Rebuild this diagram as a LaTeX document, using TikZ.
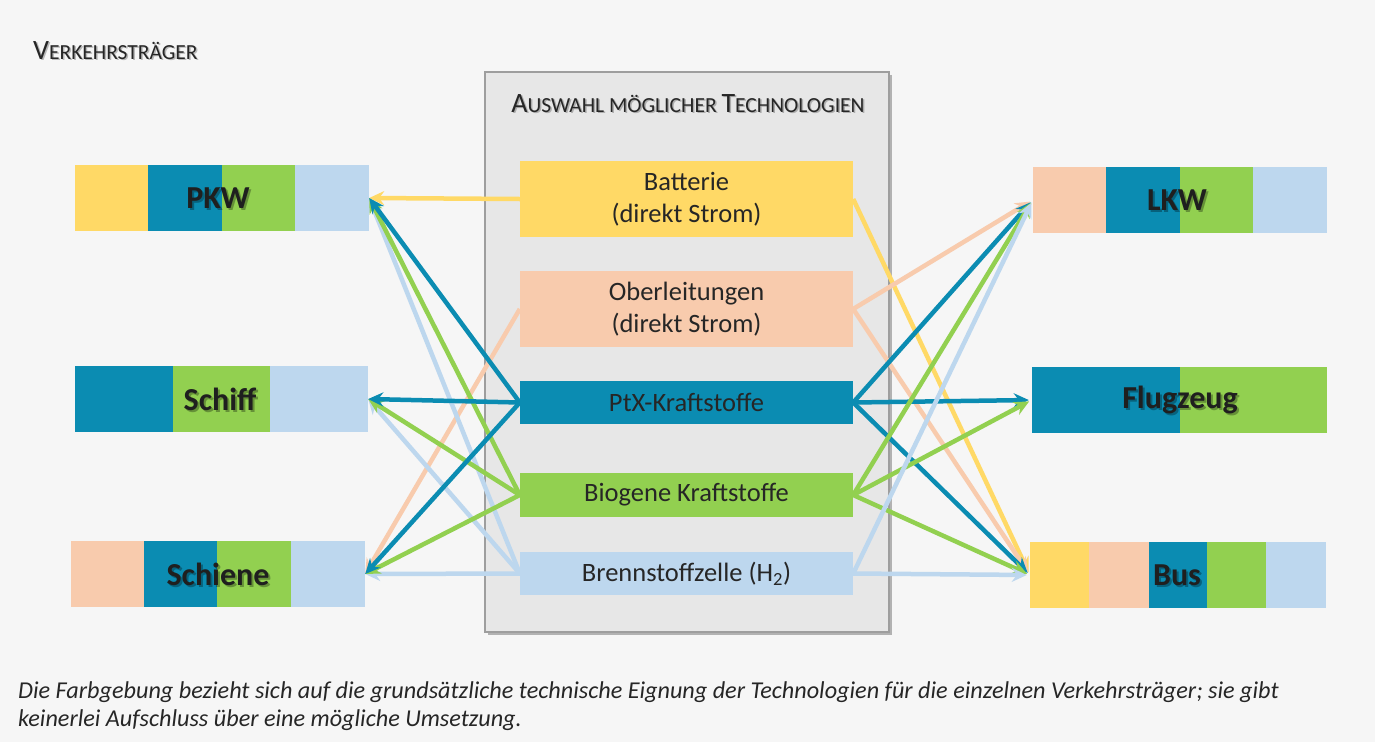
\documentclass[tikz,border=0pt]{standalone}
\usepackage{fontspec}
\setmainfont{Carlito}
\usetikzlibrary{arrows.meta}
\definecolor{cy}{HTML}{FFD966}
\definecolor{cp}{HTML}{F8CBAD}
\definecolor{ct}{HTML}{0B8CB2}
\definecolor{cg}{HTML}{92D050}
\definecolor{cb}{HTML}{BDD7EE}
\definecolor{bgc}{HTML}{F6F6F6}
\definecolor{panel}{HTML}{E7E7E7}
\definecolor{txt}{HTML}{262626}
\newcommand{\bigc}[1]{{\fontsize{28}{30}\selectfont #1}}
\newcommand{\smc}[1]{{\fontsize{21.5}{30}\selectfont #1}}
\begin{document}
\begin{tikzpicture}[x=1pt,y=-1pt,
  tech/.style={minimum width=333pt, inner sep=0pt, font=\fontsize{26.5}{32}\selectfont, text=txt, align=center},
  veh/.style={font=\bfseries\fontsize{32}{36}\selectfont, text=black!88, minimum height=66pt, inner sep=0pt},
  vehsh/.style={font=\bfseries\fontsize{32}{36}\selectfont, text=black, opacity=0.3, inner sep=0pt},
  ttl/.style={text=black!85, inner sep=0pt},
  ttlsh/.style={text=black, opacity=0.25, inner sep=0pt},
  conn/.style={line width=4.5pt, -{Stealth[length=15pt,width=14pt,inset=5pt]}},
  connr/.style={conn, shorten >=3pt},
]
\useasboundingbox (0,0) rectangle (1375,742);
\fill[bgc] (0,0) rectangle (1375,742);

% titles
\node[ttlsh, anchor=base west] (t1sh) at (34.5,60.5) {\bigc{V}\smc{ERKEHRSTRÄGER}};
\node[ttl, anchor=base west] (t1) at (33,59) {\bigc{V}\smc{ERKEHRSTRÄGER}};

% central panel
\fill[black!30] (488,75) rectangle (892,635);
\draw[fill=panel, draw=black!38, line width=1.5pt] (485,72) rectangle (889,632);
\node[ttlsh, anchor=base] (t2sh) at (689.5,113.5) {\bigc{A}\smc{USWAHL MÖGLICHER }\bigc{T}\smc{ECHNOLOGIEN}};
\node[ttl, anchor=base] (t2) at (688,112) {\bigc{A}\smc{USWAHL MÖGLICHER }\bigc{T}\smc{ECHNOLOGIEN}};

% technology boxes
\node[tech, fill=cy, minimum height=76pt] (bat) at (686.5,199) {Batterie\\(direkt Strom)};
\node[tech, fill=cp, minimum height=76pt] (ober) at (686.5,309) {Oberleitungen\\(direkt Strom)};
\node[tech, fill=ct, minimum height=43pt] (ptx) at (686.5,402.5) {PtX-Kraftstoffe};
\node[tech, fill=cg, minimum height=44pt] (bio) at (686.5,495) {Biogene Kraftstoffe};
\node[tech, fill=cb, minimum height=43pt] (bz) at (686.5,573.5) {Brennstoffzelle (H\textsubscript{2})};

% vehicle boxes left
\fill[cy] (75,165) rectangle (148,231);
\fill[ct] (148,165) rectangle (222,231);
\fill[cg] (222,165) rectangle (295,231);
\fill[cb] (295,165) rectangle (369,231);
\node[vehsh] (pkwsh) at (220,200) {PKW};
\node[veh, minimum width=294pt] (pkw) at (222,198) {};
\node[veh] (pkwl) at (218,198) {PKW};

\fill[ct] (75,366) rectangle (173,432);
\fill[cg] (173,366) rectangle (270,432);
\fill[cb] (270,366) rectangle (368,432);
\node[vehsh] (schiffsh) at (222,401) {Schiff};
\node[veh, minimum width=293pt] (schiff) at (221.5,399) {};
\node[veh] (schiffl) at (220,399) {Schiff};

\fill[cp] (71,541) rectangle (144,607);
\fill[ct] (144,541) rectangle (217,607);
\fill[cg] (217,541) rectangle (291,607);
\fill[cb] (291,541) rectangle (365,607);
\node[vehsh] (schienesh) at (220,576) {Schiene};
\node[veh, minimum width=294pt] (schiene) at (218,574) {};
\node[veh] (schienel) at (218,574) {Schiene};

% vehicle boxes right
\fill[cp] (1033,167) rectangle (1106,233);
\fill[ct] (1106,167) rectangle (1180,233);
\fill[cg] (1180,167) rectangle (1253,233);
\fill[cb] (1253,167) rectangle (1327,233);
\node[vehsh] (lkwsh) at (1179,202) {LKW};
\node[veh, minimum width=294pt] (lkw) at (1180,200) {};
\node[veh] (lkwl) at (1177,200) {LKW};

\fill[ct] (1032,367) rectangle (1180,433);
\fill[cg] (1180,367) rectangle (1327,433);
\node[vehsh] (flugsh) at (1182,402) {Flugzeug};
\node[veh, minimum width=295pt] (flug) at (1179.5,400) {};
\node[veh] (flugl) at (1180,400) {Flugzeug};

\fill[cy] (1030,542) rectangle (1089,608);
\fill[cp] (1089,542) rectangle (1149,608);
\fill[ct] (1149,542) rectangle (1207,608);
\fill[cg] (1207,542) rectangle (1266,608);
\fill[cb] (1266,542) rectangle (1326,608);
\node[vehsh] (bussh) at (1179,577) {Bus};
\node[veh, minimum width=296pt] (bus) at (1178,575) {};
\node[veh] (busl) at (1177,575) {Bus};

% connectors left
\draw[conn, cy] (bat.west) -- (pkw.east);
\draw[conn, cp] (ober.west) -- (schiene.east);
\draw[conn, cb] (bz.west) -- (pkw.east);
\draw[conn, cb] (bz.west) -- (schiff.east);
\draw[conn, cb] (bz.west) -- (schiene.east);
\draw[conn, cg] (bio.west) -- (pkw.east);
\draw[conn, cg] (bio.west) -- (schiff.east);
\draw[conn, cg] (bio.west) -- (schiene.east);
\draw[conn, ct] (ptx.west) -- (pkw.east);
\draw[conn, ct] (ptx.west) -- (schiff.east);
\draw[conn, ct] (ptx.west) -- (schiene.east);

% connectors right
\draw[connr, cy] (bat.east) -- (bus.west);
\draw[connr, cp] (ober.east) -- (lkw.west);
\draw[connr, cp] (ober.east) -- (bus.west);
\draw[connr, ct] (ptx.east) -- (lkw.west);
\draw[connr, ct] (ptx.east) -- (flug.west);
\draw[connr, ct] (ptx.east) -- (bus.west);
\draw[connr, cg] (bio.east) -- (lkw.west);
\draw[connr, cg] (bio.east) -- (flug.west);
\draw[connr, cg] (bio.east) -- (bus.west);
\draw[connr, cb] (bz.east) -- (lkw.west);
\draw[connr, cb] (bz.east) -- (bus.west);

% footer
\node[anchor=base west, inner sep=0pt, text=txt, font=\itshape\fontsize{24.2}{28}\selectfont] (f1) at (18,698) {Die Farbgebung bezieht sich auf die grundsätzliche technische Eignung der Technologien für die einzelnen Verkehrsträger; sie gibt};
\node[anchor=base west, inner sep=0pt, text=txt, font=\itshape\fontsize{24.2}{28}\selectfont] (f2) at (18,726) {keinerlei Aufschluss über eine mögliche Umsetzung.};
\end{tikzpicture}
\end{document}
